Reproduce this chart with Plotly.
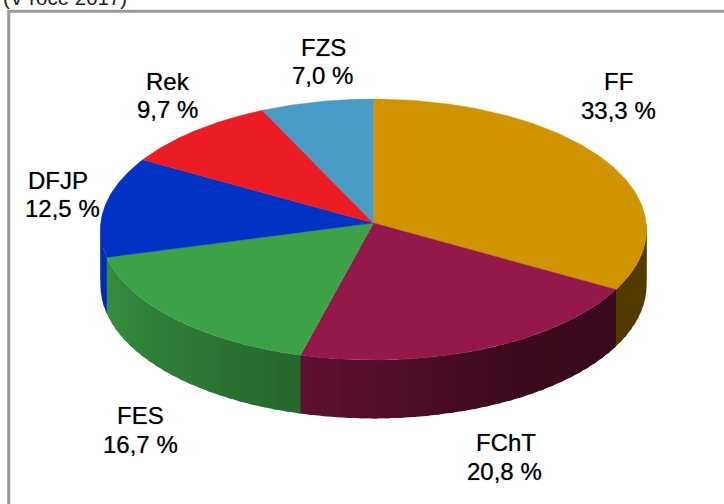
import numpy as np
import plotly.graph_objects as go

# Data
categories = ["FF", "FChT", "FES", "DFJP", "Rek", "FZS"]
values = [33.3, 20.8, 16.7, 12.5, 9.7, 7.0]
value_labels = ["33,3 %", "20,8 %", "16,7 %", "12,5 %", "9,7 %", "7,0 %"]
title_text = "(V roce 2017)"

# Styling
top_colors = ["#D09400", "#94184A", "#3DA247", "#0033C4", "#EC1C24", "#4A9CC6"]
name_xy = [(618, 81), (505.7, 442), (140.5, 415), (58, 180), (168, 81), (323, 47)]
value_xy = [(618, 110), (504.5, 471), (140.7, 444), (62, 208), (167, 109), (322, 75)]
CX, CY, RX, RY, K, DEPTH = 373.5, 223.0, 272.7, 130.2, 0.0498, 55.5
FRAME = "#9A9A9A"
shade_angle = [90, 120, 150, 195, 255, 272]
shade_level = [0.40, 0.39, 0.40, 0.64, 0.88, 0.92]
LABEL_FONT = dict(family="Liberation Sans", size=24, color="#000000",
                  shadow="0px 0px 1px rgba(0,0,0,0.55)")


def project(theta_deg, h=0.0):
    t = np.radians(np.asarray(theta_deg, dtype=float))
    s = 1.0 / (1.0 + K * np.cos(t))
    return CX + RX * np.sin(t) * s, CY - RY * np.cos(t) * s + h * s


def scale(color, f):
    r, g, b = (int(color[i:i + 2], 16) for i in (1, 3, 5))
    return f"rgb({r * f:.0f},{g * f:.0f},{b * f:.0f})"


total = sum(values)
edges = np.concatenate([[0], np.cumsum(values)]) / total * 360

fig = go.Figure()

# Side wall, drawn in overlapping strips so that shading follows the angle
for i, color in enumerate(top_colors):
    a0, a1 = max(edges[i], 88), min(edges[i + 1], 274)
    if a1 <= a0:
        continue
    steps = np.linspace(a0, a1, max(2, int((a1 - a0) / 2.5) + 1))
    for p, q in zip(steps[:-1], steps[1:]):
        # Each strip runs on under the next one, which hides the seam
        arc = np.linspace(p, q + 1.0, 4)
        xt, yt = project(arc)
        xb, yb = project(arc[::-1], DEPTH)
        c = scale(color, float(np.interp((p + q) / 2, shade_angle, shade_level)))
        fig.add_trace(go.Scatter(
            x=np.concatenate([xt, xb]), y=np.concatenate([yt, yb]),
            mode="lines", fill="toself", fillcolor=c,
            line=dict(width=0), hoverinfo="skip", showlegend=False))

# Top face
for i, (name, color) in enumerate(zip(categories, top_colors)):
    arc = np.linspace(edges[i], edges[i + 1], 120)
    xa, ya = project(arc)
    fig.add_trace(go.Scatter(
        x=np.concatenate([[CX], xa, [CX]]), y=np.concatenate([[CY], ya, [CY]]),
        mode="lines", fill="toself", fillcolor=color,
        line=dict(color=color, width=0.4), name=name,
        hoverinfo="name", showlegend=False))

# Slice labels
for name, lab, (nx, ny), (vx, vy) in zip(categories, value_labels, name_xy, value_xy):
    for text, lx, ly in ((name, nx, ny), (lab, vx, vy)):
        fig.add_annotation(x=lx, y=ly, xref="x", yref="y", text=text,
                           showarrow=False, xanchor="center", yanchor="middle",
                           font=LABEL_FONT)

fig.add_annotation(x=1, y=1 + 3 / 504, xref="x", yref="paper", text=title_text, showarrow=False,
                   xanchor="left", yanchor="middle",
                   font=dict(family="Liberation Sans", size=20.5, color="#222222"))

fig.update_layout(
    width=724, height=504, margin=dict(l=0, r=0, t=0, b=0),
    paper_bgcolor="white", plot_bgcolor="white", showlegend=False,
    xaxis=dict(range=[0, 724], visible=False, fixedrange=True),
    yaxis=dict(range=[504, 0], visible=False, fixedrange=True),
    shapes=[dict(type="rect", xref="x", yref="y", x0=8.7, y0=11.3, x1=740, y1=520,
                 line=dict(color=FRAME, width=3), layer="below")],
)

fig.write_html("out.html", config={"displayModeBar": False},
               post_script="document.body.style.margin='0';document.body.style.overflow='hidden';")
